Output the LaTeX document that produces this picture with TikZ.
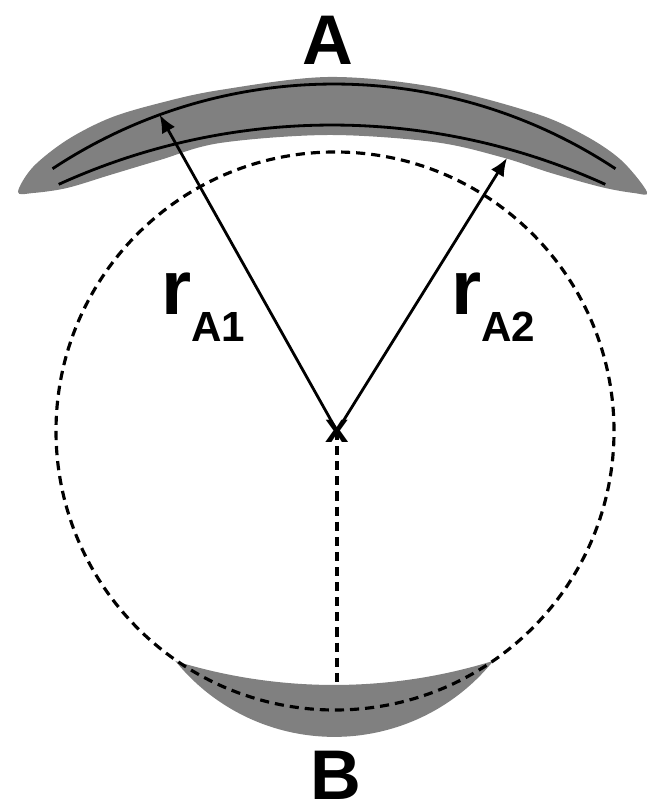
\documentclass[tikz,border=0pt]{standalone}
\usepackage{fontspec}
\setmainfont{Liberation Sans}
\usetikzlibrary{arrows.meta}

\begin{document}
\begin{tikzpicture}[line width=0.8pt, >={Latex[length=1.8mm,width=1.5mm]},
    circdash/.style={dash pattern=on 2.6pt off 1.7pt, line width=0.9pt},
    every node/.style={inner sep=0pt, font=\bfseries}]
   \useasboundingbox (0,0) rectangle (6.54,8.08);
   % the two lenses
   \fill[gray] plot[smooth cycle, tension=0.55] coordinates {
      (0.18,6.16) (0.33,6.41) (0.67,6.68) (1.10,6.90) (1.60,7.05) (2.20,7.18)
      (3.28,7.31) (4.34,7.21) (5.34,6.95) (5.84,6.73) (6.21,6.48) (6.47,6.16)
      (6.34,6.15) (6.01,6.21) (5.51,6.35) (5.01,6.51) (4.34,6.66) (3.28,6.73)
      (2.20,6.65) (1.60,6.48) (1.10,6.33) (0.67,6.20) (0.33,6.15)};
   \fill[gray] (3.34,6.617) ++(252.8:5.387) arc[start angle=252.8, end angle=287.2, radius=5.387]
      arc[start angle=321.1, end angle=218.9, radius=2.043] -- cycle;
   % surfaces of A
   \draw (3.34,2.14) ++(123.5:5.10) arc[start angle=123.5, end angle=56.5, radius=5.10];
   \draw (3.32,0.24) ++(114.5:6.59) arc[start angle=114.5, end angle=65.5, radius=6.59];
   % reference circle
   \draw[circdash] (3.35,3.77) circle (2.79);
   \node (O) at (3.37,3.77) {\fontsize{12}{12}\selectfont x};
   \coordinate (tipA1) at (1.596,6.933);
   \coordinate (tipA2) at (5.07,6.50);
   \coordinate (topB) at (3.37,1.23);
   \draw[->] (O.center) -- (tipA1);
   \draw[->] (O.center) -- (tipA2);
   \draw[circdash] (O.center) -- (topB);
   % labels
   \node[anchor=base] (labA) at (3.28,7.43) {\fontsize{20}{20}\selectfont A};
   \node[anchor=base] (labB) at (3.355,0.09) {\fontsize{20}{20}\selectfont B};
   \node[anchor=base west] (rA1) at (1.60,4.93) {\fontsize{22}{22}\selectfont r\raisebox{-0.27cm}{\fontsize{12}{12}\selectfont A1}};
   \node[anchor=base west] (rA2) at (4.50,4.93) {\fontsize{22}{22}\selectfont r\raisebox{-0.27cm}{\fontsize{12}{12}\selectfont A2}};
\end{tikzpicture}
\end{document}
